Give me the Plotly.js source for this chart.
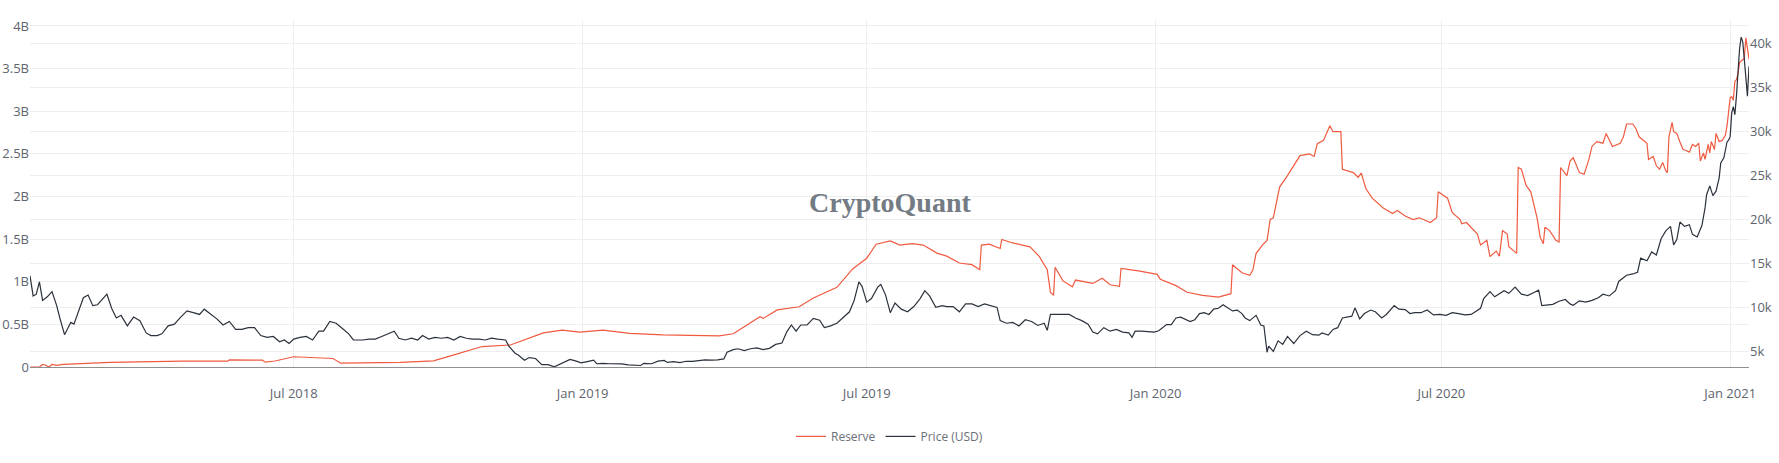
<!DOCTYPE html>
<html>
<head>
<meta charset="utf-8">
<script src="https://cdn.plot.ly/plotly-3.0.1.min.js"></script>
<style>
  html, body { margin: 0; padding: 0; background: #fff; }
  #chart { width: 1779px; height: 463px; }
</style>
</head>
<body>
<div id="chart"></div>
<script>
// exchange reserve in USD billions
const reserveDates = [
  "2018-01-14","2018-01-20","2018-01-22","2018-01-24","2018-01-26","2018-01-28","2018-01-31","2018-02-04",
  "2018-03-06","2018-04-21","2018-05-20","2018-05-21","2018-06-11","2018-06-13","2018-06-19","2018-06-29",
  "2018-07-01","2018-07-26","2018-07-31","2018-09-07","2018-09-28","2018-10-10","2018-10-21","2018-10-29",
  "2018-11-16","2018-11-30","2018-12-07","2018-12-19","2018-12-30","2019-01-14","2019-01-31","2019-02-21",
  "2019-03-04","2019-03-29","2019-04-07","2019-04-16","2019-04-24","2019-04-26","2019-05-05","2019-05-19",
  "2019-05-28","2019-06-12","2019-06-22","2019-07-01","2019-07-07","2019-07-16","2019-07-22","2019-07-30",
  "2019-08-06","2019-08-15","2019-08-21","2019-08-29","2019-09-06","2019-09-11","2019-09-12","2019-09-17",
  "2019-09-24","2019-09-25","2019-10-02","2019-10-13","2019-10-19","2019-10-24","2019-10-26","2019-10-28",
  "2019-10-29","2019-11-03","2019-11-09","2019-11-11","2019-11-22","2019-11-28","2019-12-03","2019-12-09",
  "2019-12-10","2019-12-22","2020-01-02","2020-01-04","2020-01-14","2020-01-21","2020-01-31","2020-02-10",
  "2020-02-16","2020-02-18","2020-02-19","2020-02-25","2020-03-01","2020-03-03","2020-03-05","2020-03-09",
  "2020-03-12","2020-03-14","2020-03-16","2020-03-20","2020-03-25","2020-03-29","2020-04-02","2020-04-08",
  "2020-04-11","2020-04-13","2020-04-17","2020-04-21","2020-04-23","2020-04-28","2020-04-29","2020-05-06",
  "2020-05-09","2020-05-11","2020-05-14","2020-05-18","2020-05-25","2020-05-31","2020-06-03","2020-06-08",
  "2020-06-13","2020-06-17","2020-06-24","2020-06-28","2020-06-29","2020-07-05","2020-07-08","2020-07-13",
  "2020-07-14","2020-07-17","2020-07-24","2020-07-26","2020-07-30","2020-08-01","2020-08-05","2020-08-07",
  "2020-08-09","2020-08-12","2020-08-13","2020-08-18","2020-08-19","2020-08-21","2020-08-24","2020-08-27",
  "2020-08-31","2020-09-02","2020-09-04","2020-09-05","2020-09-08","2020-09-12","2020-09-14","2020-09-15",
  "2020-09-19","2020-09-21","2020-09-23","2020-09-27","2020-09-30","2020-10-03","2020-10-05","2020-10-08",
  "2020-10-12","2020-10-14","2020-10-18","2020-10-23","2020-10-25","2020-10-27","2020-10-31","2020-11-02",
  "2020-11-04","2020-11-09","2020-11-10","2020-11-13","2020-11-15","2020-11-17","2020-11-19","2020-11-21",
  "2020-11-22","2020-11-23","2020-11-25","2020-11-26","2020-11-28","2020-11-30","2020-12-02","2020-12-04",
  "2020-12-06","2020-12-08","2020-12-10","2020-12-12","2020-12-13","2020-12-15","2020-12-16","2020-12-18",
  "2020-12-19","2020-12-20","2020-12-22","2020-12-23","2020-12-25","2020-12-27","2020-12-29","2020-12-30",
  "2021-01-01","2021-01-02","2021-01-03","2021-01-04","2021-01-05","2021-01-06","2021-01-07","2021-01-08",
  "2021-01-09","2021-01-10","2021-01-11","2021-01-12","2021-01-13"
];
const reserveBn = [
  0, 0, 0.03, 0.02, 0, 0.03, 0.02, 0.03,
  0.054, 0.068, 0.068, 0.083, 0.08, 0.057, 0.07, 0.117,
  0.12, 0.10, 0.045, 0.054, 0.072, 0.137, 0.20, 0.24,
  0.258, 0.353, 0.40, 0.433, 0.41, 0.433, 0.395, 0.376,
  0.372, 0.365, 0.39, 0.50, 0.59, 0.57, 0.67, 0.707,
  0.81, 0.934, 1.15, 1.276, 1.44, 1.478, 1.43, 1.447,
  1.43, 1.333, 1.30, 1.22, 1.20, 1.14, 1.43, 1.44,
  1.39, 1.496, 1.455, 1.41, 1.295, 1.14, 0.877, 0.84,
  1.17, 1.01, 0.94, 1.02, 0.98, 1.04, 0.965, 0.946,
  1.155, 1.125, 1.086, 1.03, 0.954, 0.877, 0.84, 0.82,
  0.85, 0.86, 1.2, 1.105, 1.075, 1.14, 1.33, 1.43,
  1.485, 1.73, 1.75, 2.11, 2.245, 2.36, 2.48, 2.50,
  2.47, 2.62, 2.66, 2.83, 2.76, 2.76, 2.32, 2.28,
  2.225, 2.275, 2.09, 1.98, 1.865, 1.80, 1.835, 1.77,
  1.73, 1.75, 1.695, 1.75, 2.055, 1.98, 1.81, 1.73,
  1.68, 1.695, 1.56, 1.43, 1.485, 1.295, 1.36, 1.30,
  1.6, 1.56, 1.41, 1.333, 2.34, 2.32, 2.13, 2.055,
  1.75, 1.52, 1.447, 1.64, 1.6, 1.485, 1.466, 2.34,
  2.245, 2.416, 2.455, 2.28, 2.26, 2.435, 2.587, 2.644,
  2.625, 2.74, 2.587, 2.625, 2.70, 2.85, 2.85, 2.795,
  2.70, 2.625, 2.435, 2.47, 2.36, 2.32, 2.40, 2.30,
  2.28, 2.70, 2.87, 2.76, 2.74, 2.64, 2.55, 2.54,
  2.52, 2.61, 2.587, 2.625, 2.416, 2.51, 2.435, 2.61,
  2.51, 2.644, 2.55, 2.74, 2.644, 2.66, 2.72, 2.83,
  3.157, 3.17, 3.13, 3.35, 3.37, 3.44, 3.57, 3.59,
  3.61, 3.62, 3.86, 3.70, 3.61
];

// BTC price in USD
const priceDates = [
  "2018-01-14","2018-01-16","2018-01-18","2018-01-20","2018-01-22","2018-01-25","2018-01-28","2018-01-31",
  "2018-02-02","2018-02-05","2018-02-07","2018-02-09","2018-02-11","2018-02-14","2018-02-17","2018-02-20",
  "2018-02-23","2018-02-26","2018-03-01","2018-03-04","2018-03-07","2018-03-10","2018-03-13","2018-03-17",
  "2018-03-21","2018-03-25","2018-03-29","2018-04-01","2018-04-05","2018-04-08","2018-04-12","2018-04-16",
  "2018-04-20","2018-04-24","2018-04-28","2018-05-02","2018-05-05","2018-05-09","2018-05-13","2018-05-17",
  "2018-05-21","2018-05-25","2018-05-29","2018-06-02","2018-06-06","2018-06-10","2018-06-14","2018-06-18",
  "2018-06-22","2018-06-25","2018-06-28","2018-07-01","2018-07-05","2018-07-09","2018-07-13","2018-07-17",
  "2018-07-20","2018-07-24","2018-07-28","2018-08-01","2018-08-05","2018-08-08","2018-08-11","2018-08-14",
  "2018-08-18","2018-08-22","2018-08-26","2018-08-30","2018-09-03","2018-09-06","2018-09-10","2018-09-14",
  "2018-09-18","2018-09-21","2018-09-25","2018-09-29","2018-10-03","2018-10-07","2018-10-11","2018-10-15",
  "2018-10-19","2018-10-23","2018-10-27","2018-10-31","2018-11-04","2018-11-08","2018-11-13","2018-11-15",
  "2018-11-19","2018-11-21","2018-11-25","2018-11-28","2018-12-02","2018-12-06","2018-12-10","2018-12-14",
  "2018-12-18","2018-12-21","2018-12-24","2018-12-28","2018-12-31","2019-01-04","2019-01-08","2019-01-10",
  "2019-01-14","2019-01-18","2019-01-22","2019-01-26","2019-01-30","2019-02-03","2019-02-07","2019-02-09",
  "2019-02-14","2019-02-18","2019-02-22","2019-02-24","2019-02-28","2019-03-04","2019-03-08","2019-03-12",
  "2019-03-16","2019-03-20","2019-03-24","2019-03-28","2019-04-01","2019-04-03","2019-04-07","2019-04-10",
  "2019-04-14","2019-04-18","2019-04-22","2019-04-26","2019-04-30","2019-05-04","2019-05-08","2019-05-11",
  "2019-05-14","2019-05-17","2019-05-20","2019-05-24","2019-05-28","2019-06-01","2019-06-04","2019-06-08",
  "2019-06-12","2019-06-16","2019-06-20","2019-06-23","2019-06-26","2019-06-28","2019-07-01","2019-07-04",
  "2019-07-08","2019-07-10","2019-07-13","2019-07-16","2019-07-19","2019-07-23","2019-07-27","2019-07-31",
  "2019-08-04","2019-08-07","2019-08-10","2019-08-14","2019-08-18","2019-08-21","2019-08-25","2019-08-29",
  "2019-09-02","2019-09-06","2019-09-10","2019-09-14","2019-09-18","2019-09-22","2019-09-24","2019-09-28",
  "2019-10-02","2019-10-06","2019-10-10","2019-10-14","2019-10-18","2019-10-22","2019-10-24","2019-10-26",
  "2019-10-30","2019-11-03","2019-11-07","2019-11-11","2019-11-15","2019-11-19","2019-11-22","2019-11-25",
  "2019-11-29","2019-12-03","2019-12-07","2019-12-11","2019-12-15","2019-12-17","2019-12-19","2019-12-23",
  "2019-12-27","2019-12-31","2020-01-03","2020-01-06","2020-01-08","2020-01-11","2020-01-14","2020-01-17",
  "2020-01-20","2020-01-23","2020-01-26","2020-01-29","2020-02-01","2020-02-04","2020-02-07","2020-02-10",
  "2020-02-13","2020-02-16","2020-02-19","2020-02-22","2020-02-25","2020-02-27","2020-03-01","2020-03-05",
  "2020-03-08","2020-03-10","2020-03-12","2020-03-13","2020-03-16","2020-03-19","2020-03-22","2020-03-25",
  "2020-03-29","2020-04-02","2020-04-06","2020-04-10","2020-04-14","2020-04-16","2020-04-20","2020-04-23",
  "2020-04-26","2020-04-29","2020-05-02","2020-05-05","2020-05-07","2020-05-10","2020-05-13","2020-05-17",
  "2020-05-20","2020-05-24","2020-05-27","2020-06-01","2020-06-04","2020-06-08","2020-06-11","2020-06-14",
  "2020-06-18","2020-06-22","2020-06-26","2020-06-30","2020-07-04","2020-07-08","2020-07-12","2020-07-16",
  "2020-07-20","2020-07-23","2020-07-26","2020-07-28","2020-08-01","2020-08-04","2020-08-07","2020-08-10",
  "2020-08-13","2020-08-17","2020-08-21","2020-08-25","2020-08-29","2020-09-01","2020-09-03","2020-09-07",
  "2020-09-10","2020-09-14","2020-09-18","2020-09-21","2020-09-23","2020-09-27","2020-10-01","2020-10-05",
  "2020-10-09","2020-10-12","2020-10-16","2020-10-20","2020-10-22","2020-10-27","2020-10-31","2020-11-03",
  "2020-11-05","2020-11-09","2020-11-12","2020-11-15","2020-11-18","2020-11-21","2020-11-24","2020-11-26",
  "2020-11-28","2020-11-30","2020-12-03","2020-12-06","2020-12-08","2020-12-11","2020-12-14","2020-12-16",
  "2020-12-17","2020-12-19","2020-12-21","2020-12-23","2020-12-25","2020-12-26","2020-12-28","2020-12-30",
  "2020-12-31","2021-01-01","2021-01-02","2021-01-03","2021-01-04","2021-01-05","2021-01-06","2021-01-07",
  "2021-01-08","2021-01-09","2021-01-10","2021-01-11","2021-01-12","2021-01-13"
];
const priceUsd = [
  13600, 11300, 11500, 12900, 10800, 11200, 11800, 10200,
  8800, 6900, 7600, 8300, 8100, 9500, 11100, 11400,
  10200, 10300, 10900, 11500, 9900, 8800, 9100, 7900,
  8900, 8500, 7100, 6800, 6800, 7000, 7900, 8100,
  8900, 9600, 9400, 9200, 9800, 9300, 8700, 8000,
  8400, 7500, 7500, 7700, 7700, 6800, 6600, 6700,
  6100, 6300, 5900, 6400, 6600, 6700, 6300, 7300,
  7300, 8400, 8200, 7600, 7000, 6300, 6300, 6300,
  6400, 6400, 6700, 7000, 7300, 6500, 6300, 6500,
  6300, 6800, 6400, 6600, 6500, 6600, 6300, 6700,
  6500, 6400, 6400, 6300, 6500, 6400, 6300, 5600,
  4800, 4600, 4000, 4300, 4200, 3500, 3500, 3250,
  3600, 3900, 4100, 3900, 3700, 3850, 4000, 3600,
  3650, 3600, 3580, 3580, 3470, 3450, 3400, 3650,
  3600, 3900, 3980, 3750, 3850, 3720, 3880, 3880,
  4000, 4050, 4000, 4030, 4150, 4900, 5200, 5300,
  5100, 5300, 5400, 5200, 5350, 5800, 5950, 7200,
  8000, 7300, 8000, 8000, 8750, 8550, 7700, 7900,
  8200, 8900, 9500, 10800, 12900, 12400, 10600, 11000,
  12300, 12600, 11400, 9400, 10500, 9800, 9500, 10100,
  11000, 11900, 11300, 10000, 10200, 10100, 10100, 9500,
  10400, 10400, 10100, 10400, 10200, 10000, 8500, 8200,
  8300, 7900, 8600, 8400, 7950, 8200, 7400, 9200,
  9200, 9200, 9200, 8800, 8500, 8100, 7200, 7000,
  7700, 7300, 7500, 7200, 7100, 6600, 7300, 7300,
  7250, 7200, 7350, 7750, 8050, 8050, 8800, 8900,
  8650, 8400, 8600, 9300, 9400, 9200, 9800, 9900,
  10300, 9900, 9600, 9700, 9300, 8800, 8500, 9100,
  8000, 7900, 4900, 5600, 5000, 6200, 5800, 6700,
  5900, 6800, 7300, 6900, 6850, 7100, 6850, 7500,
  7700, 8800, 8900, 9000, 9950, 8700, 9300, 9700,
  9500, 8800, 9200, 10200, 9800, 9750, 9300, 9400,
  9400, 9700, 9150, 9200, 9100, 9400, 9300, 9150,
  9200, 9600, 9900, 11000, 11800, 11200, 11600, 11900,
  11600, 12300, 11500, 11350, 11700, 11950, 10200, 10300,
  10350, 10700, 10900, 10400, 10250, 10750, 10600, 10800,
  11100, 11500, 11300, 11900, 12950, 13650, 13800, 14000,
  15600, 15300, 16300, 15950, 17800, 18700, 19200, 17100,
  17700, 19700, 19200, 19400, 18300, 18000, 19300, 21300,
  22800, 23800, 22700, 23200, 24700, 26400, 27000, 28800,
  29000, 29400, 32100, 32800, 31900, 34000, 36800, 39400,
  40700, 40200, 38200, 35500, 34000, 37400
];

const reserveColor = "#f05a40";
const priceColor = "#2b323c";

const traces = [
  {
    x: reserveDates,
    y: reserveBn.map(v => v * 1e9),
    name: "Reserve",
    type: "scatter",
    mode: "lines",
    line: { color: reserveColor, width: 1.2 },
    yaxis: "y"
  },
  {
    x: priceDates,
    y: priceUsd,
    name: "Price (USD)",
    type: "scatter",
    mode: "lines",
    line: { color: priceColor, width: 1.2 },
    yaxis: "y2"
  }
];

const tickFont = { family: "Open Sans, sans-serif", size: 13, color: "#5d646e" };

const layout = {
  width: 1779,
  height: 463,
  margin: { l: 30, r: 30, t: 20, b: 86 },
  paper_bgcolor: "#ffffff",
  plot_bgcolor: "#ffffff",
  showlegend: true,
  legend: {
    orientation: "h",
    x: 0.5,
    xanchor: "center",
    y: -0.2,
    yanchor: "middle",
    font: { family: "Open Sans, sans-serif", size: 12, color: "#6b7079" }
  },
  xaxis: {
    type: "date",
    range: ["2018-01-14", "2021-01-13"],
    dtick: "M6",
    tick0: "2018-01-01",
    tickformat: "%b %Y",
    showgrid: true,
    gridcolor: "#eeeeee",
    showline: true,
    linecolor: "#8f8f8f",
    linewidth: 1,
    ticks: "",
    ticklabelstandoff: 14,
    tickfont: tickFont,
    zeroline: false
  },
  yaxis: {
    range: [0, 4.07e9],
    dtick: 0.5e9,
    exponentformat: "B",
    showgrid: true,
    gridcolor: "#eeeeee",
    zeroline: false,
    ticks: "",
    tickfont: tickFont
  },
  yaxis2: {
    overlaying: "y",
    side: "right",
    range: [3230, 42650],
    tick0: 5000,
    dtick: 5000,
    showgrid: true,
    gridcolor: "#eeeeee",
    zeroline: false,
    ticks: "",
    tickfont: tickFont
  },
  annotations: [
    {
      text: "CryptoQuant",
      xref: "paper",
      yref: "paper",
      x: 0.5,
      y: 0.473,
      xanchor: "center",
      yanchor: "middle",
      showarrow: false,
      font: { family: "Liberation Serif, serif", size: 28, color: "#737b84", weight: 700 }
    }
  ]
};

Plotly.newPlot("chart", traces, layout, { displayModeBar: false, staticPlot: true });
</script>
</body>
</html>
